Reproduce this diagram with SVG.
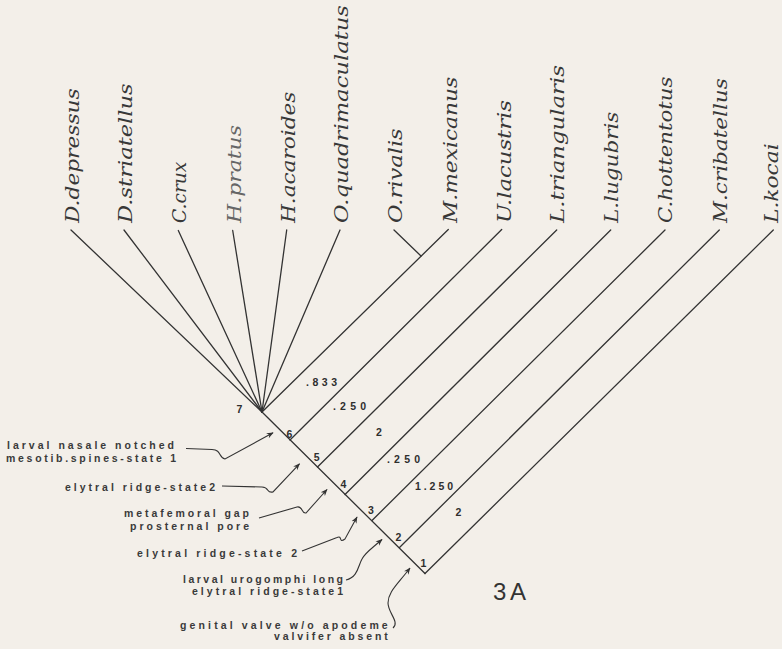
<svg xmlns="http://www.w3.org/2000/svg" width="782" height="649" viewBox="0 0 782 649">
<style>
.bg{fill:#f3efe9}
.br{stroke:#333;stroke-width:1.3;fill:none;stroke-linecap:round}
.ar{stroke:#333;stroke-width:1.1;fill:none;marker-end:url(#ah)}
.sp{font-family:"DejaVu Serif","Liberation Serif",serif;font-style:italic;font-size:18px;fill:#383838}
.an{font-family:"Liberation Sans",Arial,sans-serif;font-weight:bold;font-size:10.5px;fill:#3a3a3a}
.nm{font-family:"Liberation Sans",Arial,sans-serif;font-weight:bold;font-size:10.5px;fill:#2e2e2e}
.fig{font-family:"Liberation Sans",Arial,sans-serif;font-size:24px;fill:#333}
</style>
<defs>
<marker id="ah" viewBox="0 0 10 10" refX="9" refY="5" markerWidth="7" markerHeight="7" markerUnits="userSpaceOnUse" orient="auto">
<path d="M0,1 L10,5 L0,9 L3,5 z" fill="#333"/>
</marker>
</defs>
<rect class="bg" x="0" y="0" width="782" height="649"/>

<g id="connectors">
<line class="br" x1="262" y1="412" x2="71" y2="230"/>
<line class="br" x1="262" y1="412" x2="124" y2="230"/>
<line class="br" x1="262" y1="412" x2="178.3" y2="230.5"/>
<line class="br" x1="262" y1="412" x2="232.7" y2="230.5"/>
<line class="br" x1="262" y1="412" x2="286.7" y2="230"/>
<line class="br" x1="262" y1="412" x2="340" y2="230"/>
<line class="br" x1="262" y1="412" x2="448.3" y2="229.5"/>
<line class="br" x1="421" y1="256" x2="394" y2="230"/>
<line class="br" x1="262" y1="412" x2="425" y2="573.5"/>
<line class="br" x1="290" y1="440" x2="501.7" y2="229.5"/>
<line class="br" x1="317.5" y1="467" x2="556.7" y2="230"/>
<line class="br" x1="345" y1="494.5" x2="610.7" y2="230"/>
<line class="br" x1="372" y1="520.5" x2="665" y2="230"/>
<line class="br" x1="399.5" y1="547.5" x2="719.3" y2="230"/>
<line class="br" x1="425" y1="573.5" x2="773.3" y2="230"/>
</g>

<g id="branch-lengths">
<text class="nm" x="306" y="385.5" textLength="31" lengthAdjust="spacing">.833</text>
<text class="nm" x="333" y="410" textLength="33" lengthAdjust="spacing">.250</text>
<text class="nm" x="379" y="435.5" text-anchor="middle">2</text>
<text class="nm" x="387" y="463" textLength="33" lengthAdjust="spacing">.250</text>
<text class="nm" x="415" y="490" textLength="38" lengthAdjust="spacing">1.250</text>
<text class="nm" x="458.5" y="515.5" text-anchor="middle">2</text>
</g>

<g id="leaf-D-depressus"><text class="sp" transform="translate(79,223) rotate(-90)" textLength="134.7" lengthAdjust="spacingAndGlyphs">D.depressus</text></g>
<g id="leaf-D-striatellus"><text class="sp" transform="translate(132,223) rotate(-90)" textLength="139.7" lengthAdjust="spacingAndGlyphs">D.striatellus</text></g>
<g id="leaf-C-crux"><text class="sp" transform="translate(186,223) rotate(-90)" textLength="61.3" lengthAdjust="spacingAndGlyphs">C.crux</text></g>
<g id="leaf-H-pratus"><text class="sp" transform="translate(240.5,223) rotate(-90)" textLength="98" lengthAdjust="spacingAndGlyphs" style="fill:#666">H.pratus</text></g>
<g id="leaf-H-acaroides"><text class="sp" transform="translate(294.5,223) rotate(-90)" textLength="131.3" lengthAdjust="spacingAndGlyphs">H.acaroides</text></g>
<g id="leaf-O-quadrimaculatus"><text class="sp" transform="translate(347.5,223) rotate(-90)" textLength="218" lengthAdjust="spacingAndGlyphs">O.quadrimaculatus</text></g>
<g id="leaf-O-rivalis"><text class="sp" transform="translate(401.5,223) rotate(-90)" textLength="94.7" lengthAdjust="spacingAndGlyphs">O.rivalis</text></g>
<g id="leaf-M-mexicanus"><text class="sp" transform="translate(457,223) rotate(-90)" textLength="146.3" lengthAdjust="spacingAndGlyphs">M.mexicanus</text></g>
<g id="leaf-U-lacustris"><text class="sp" transform="translate(510.5,223) rotate(-90)" textLength="123" lengthAdjust="spacingAndGlyphs">U.lacustris</text></g>
<g id="leaf-L-triangularis"><text class="sp" transform="translate(564,223) rotate(-90)" textLength="158" lengthAdjust="spacingAndGlyphs">L.triangularis</text></g>
<g id="leaf-L-lugubris"><text class="sp" transform="translate(618,223) rotate(-90)" textLength="111.3" lengthAdjust="spacingAndGlyphs">L.lugubris</text></g>
<g id="leaf-C-hottentotus"><text class="sp" transform="translate(672,223) rotate(-90)" textLength="146.3" lengthAdjust="spacingAndGlyphs">C.hottentotus</text></g>
<g id="leaf-M-cribatellus"><text class="sp" transform="translate(727,223) rotate(-90)" textLength="144.7" lengthAdjust="spacingAndGlyphs">M.cribatellus</text></g>
<g id="leaf-L-kocai"><text class="sp" transform="translate(777.5,223) rotate(-90)" textLength="79.7" lengthAdjust="spacingAndGlyphs">L.kocai</text></g>

<g id="node-7"><text class="nm" x="239.5" y="413" text-anchor="middle">7</text></g>
<g id="node-6"><text class="nm" x="289.5" y="438" text-anchor="middle">6</text></g>
<g id="node-5"><text class="nm" x="316.7" y="460.5" text-anchor="middle">5</text></g>
<g id="node-4"><text class="nm" x="343.3" y="488" text-anchor="middle">4</text></g>
<g id="node-3"><text class="nm" x="371" y="514" text-anchor="middle">3</text></g>
<g id="node-2"><text class="nm" x="398.3" y="540.5" text-anchor="middle">2</text></g>
<g id="node-1"><text class="nm" x="423.3" y="567" text-anchor="middle">1</text></g>

<g id="annot-6">
<text class="an" x="7" y="448.5" textLength="167" lengthAdjust="spacing">larval nasale notched</text>
<text class="an" x="6" y="462" textLength="170" lengthAdjust="spacing">mesotib.spines-state 1</text>
<path class="ar" d="M186,448.5 L212,449.5 C222,450 218,457.5 225,459 L273,432.8"/>
</g>
<g id="annot-5">
<text class="an" x="65" y="491" textLength="150" lengthAdjust="spacing">elytral ridge-state2</text>
<path class="ar" d="M222,486 L262,487 C270,487.5 266,493.5 273,492 L299.5,463.8"/>
</g>
<g id="annot-4">
<text class="an" x="124" y="517" textLength="125" lengthAdjust="spacing">metafemoral gap</text>
<text class="an" x="130" y="530" textLength="119" lengthAdjust="spacing">prosternal pore</text>
<path class="ar" d="M259,518 L297,507 C303,505.5 301,514 306,513 L327,489.5"/>
</g>
<g id="annot-3">
<text class="an" x="137" y="557" textLength="160" lengthAdjust="spacing">elytral ridge-state 2</text>
<path class="ar" d="M302,551 L337,537.5 C343,535 338,544 345,539 L357,517"/>
</g>
<g id="annot-2">
<text class="an" x="183" y="583" textLength="160" lengthAdjust="spacing">larval urogomphi long</text>
<text class="an" x="192" y="595" textLength="151" lengthAdjust="spacing">elytral ridge-state1</text>
<path class="ar" d="M346,580 C358,577 358,566 362,559 C365,553 370,550 382,539.5"/>
</g>
<g id="annot-1">
<text class="an" x="180" y="628.5" textLength="207.7" lengthAdjust="spacing">genital valve w/o apodeme</text>
<text class="an" x="274" y="640" textLength="113.7" lengthAdjust="spacing">valvifer absent</text>
<path class="ar" d="M393,628 C400,622 388,613 388,603 C388,592 397,585 410,568"/>
</g>

<g id="figure-label"><text class="fig" x="493" y="599.5" textLength="33" lengthAdjust="spacing">3A</text></g>
</svg>
